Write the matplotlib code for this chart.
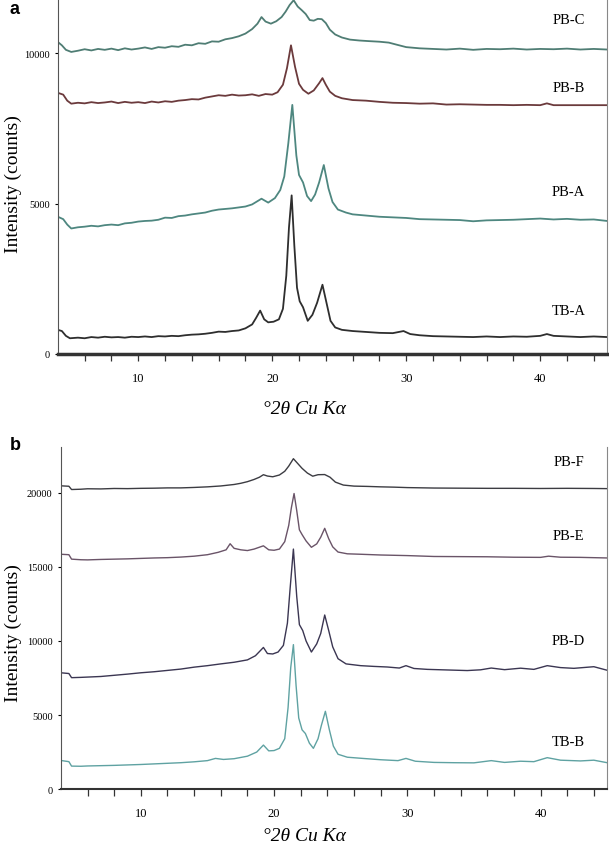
import numpy as np
import matplotlib
matplotlib.use('Agg')
import matplotlib.pyplot as plt

plt.rcParams['font.family'] = ['Liberation Serif', 'DejaVu Serif']

# 图a数据 (2theta, counts)
pb_c = [(4.0, 10370), (4.3, 10260), (4.6, 10110), (5.0, 10040), (5.5, 10080), (6.0, 10130), (6.5, 10090),
        (7.0, 10140), (7.5, 10110), (8.0, 10150), (8.5, 10100), (9.0, 10160), (9.5, 10120), (10.0, 10150),
        (10.5, 10190), (11.0, 10140), (11.5, 10200), (12.0, 10180), (12.5, 10230), (13.0, 10210), (13.5, 10280),
        (14.0, 10260), (14.5, 10330), (15.0, 10310), (15.5, 10390), (16.0, 10380), (16.5, 10460), (17.0, 10500),
        (17.5, 10560), (18.0, 10650), (18.5, 10800), (18.9, 10980), (19.2, 11200), (19.5, 11050), (19.9, 10980),
        (20.3, 11060), (20.7, 11200), (21.0, 11380), (21.3, 11600), (21.6, 11760), (21.9, 11550), (22.2, 11430),
        (22.5, 11300), (22.8, 11100), (23.1, 11080), (23.4, 11140), (23.7, 11130), (24.0, 11000), (24.3, 10780),
        (24.7, 10620), (25.2, 10520), (25.8, 10450), (26.5, 10420), (27.2, 10400), (28.0, 10380), (28.7, 10350),
        (29.3, 10280), (30.0, 10200), (31, 10160), (32, 10140), (33, 10120), (34, 10150), (35, 10110), (36, 10140),
        (37, 10130), (38, 10150), (39, 10120), (40, 10140), (41, 10130), (42, 10150), (43, 10120), (44, 10140),
        (45, 10120)]
pb_b = [(4.0, 8680), (4.4, 8620), (4.7, 8420), (5.0, 8320), (5.5, 8350), (6, 8330), (6.5, 8370), (7, 8340),
        (7.5, 8360), (8, 8390), (8.5, 8340), (9, 8380), (9.5, 8350), (10, 8370), (10.5, 8340), (11, 8390),
        (11.5, 8360), (12, 8400), (12.5, 8380), (13, 8420), (13.5, 8440), (14, 8470), (14.5, 8460), (15, 8520),
        (15.5, 8560), (16, 8600), (16.5, 8580), (17, 8620), (17.5, 8590), (18, 8600), (18.5, 8630), (19, 8580),
        (19.5, 8640), (20, 8620), (20.4, 8700), (20.8, 8950), (21.1, 9500), (21.4, 10260), (21.7, 9550),
        (22.0, 8980), (22.3, 8780), (22.7, 8650), (23.1, 8760), (23.5, 9000), (23.75, 9170), (24.0, 8950),
        (24.3, 8720), (24.7, 8580), (25.2, 8500), (26, 8440), (27, 8420), (28, 8380), (29, 8350), (30, 8340),
        (31, 8320), (32, 8330), (33, 8290), (34, 8300), (35, 8290), (36, 8280), (37, 8280), (38, 8270),
        (39, 8280), (40, 8270), (40.5, 8330), (41, 8270), (42, 8270), (43, 8270), (44, 8270), (45, 8270)]
pb_a = [(4.0, 4560), (4.4, 4480), (4.7, 4300), (5.0, 4170), (5.5, 4210), (6, 4230), (6.5, 4260), (7, 4240),
        (7.5, 4280), (8, 4300), (8.5, 4280), (9, 4340), (9.5, 4360), (10, 4400), (10.5, 4420), (11, 4430),
        (11.5, 4460), (12, 4530), (12.5, 4520), (13, 4580), (13.5, 4600), (14, 4640), (14.5, 4670), (15, 4700),
        (15.5, 4760), (16, 4800), (16.5, 4820), (17, 4840), (17.5, 4870), (18, 4900), (18.5, 4970), (19.2, 5160),
        (19.7, 5030), (20.2, 5180), (20.6, 5450), (20.9, 5900), (21.2, 7000), (21.5, 8280), (21.8, 6600),
        (22.0, 5950), (22.3, 5700), (22.6, 5250), (22.9, 5080), (23.2, 5300), (23.5, 5700), (23.85, 6280),
        (24.2, 5500), (24.5, 5050), (24.9, 4800), (25.5, 4700), (26, 4640), (27, 4600), (28, 4560), (29, 4540),
        (30, 4520), (31, 4480), (32, 4470), (33, 4460), (34, 4450), (35, 4410), (36, 4440), (37, 4450),
        (38, 4460), (39, 4480), (40, 4500), (41, 4470), (42, 4490), (43, 4460), (44, 4470), (45, 4420)]
tb_a = [(4.0, 800), (4.3, 760), (4.6, 600), (4.9, 520), (5.5, 540), (6, 520), (6.5, 560), (7, 540), (7.5, 570),
        (8, 550), (8.5, 560), (9, 540), (9.5, 570), (10, 560), (10.5, 580), (11, 560), (11.5, 590), (12, 580),
        (12.5, 600), (13, 590), (13.5, 620), (14, 640), (14.5, 650), (15, 670), (15.5, 700), (16, 740),
        (16.5, 730), (17, 760), (17.5, 780), (18, 850), (18.5, 980), (18.8, 1200), (19.1, 1440), (19.4, 1150),
        (19.7, 1050), (20.1, 1070), (20.5, 1150), (20.8, 1500), (21.05, 2600), (21.25, 4200), (21.45, 5270),
        (21.65, 3600), (21.85, 2200), (22.05, 1750), (22.3, 1550), (22.65, 1100), (23.0, 1300), (23.35, 1700),
        (23.75, 2300), (24.05, 1700), (24.35, 1100), (24.7, 880), (25.2, 800), (26, 760), (27, 730), (28, 700),
        (29, 690), (29.8, 760), (30.3, 660), (31, 620), (32, 590), (33, 580), (34, 570), (35, 560), (36, 580),
        (37, 560), (38, 580), (39, 570), (40, 600), (40.5, 660), (41, 600), (42, 580), (43, 560), (44, 580),
        (45, 560)]

# 图b数据
pb_f = [(4.0, 20470), (4.6, 20440), (4.8, 20220), (5.5, 20240), (6, 20270), (7, 20260), (8, 20290), (9, 20280),
        (10, 20300), (11, 20310), (12, 20330), (13, 20330), (14, 20360), (15, 20400), (16, 20460), (17, 20560),
        (17.5, 20640), (18, 20750), (18.5, 20900), (18.9, 21050), (19.2, 21220), (19.5, 21130), (19.9, 21080),
        (20.4, 21200), (20.8, 21450), (21.1, 21800), (21.45, 22300), (21.8, 21950), (22.1, 21650), (22.5, 21330),
        (22.9, 21120), (23.3, 21220), (23.8, 21230), (24.2, 21050), (24.6, 20720), (25.2, 20520), (26, 20450),
        (27, 20430), (28, 20400), (29, 20380), (30, 20350), (32, 20320), (34, 20310), (36, 20300), (38, 20300),
        (40, 20290), (42, 20300), (44, 20290), (45, 20280)]
pb_e = [(4.0, 15850), (4.6, 15820), (4.8, 15520), (5.5, 15480), (6, 15470), (7, 15500), (8, 15520), (9, 15540),
        (10, 15570), (11, 15600), (12, 15620), (13, 15660), (14, 15720), (15, 15820), (15.8, 15980), (16.4, 16150),
        (16.7, 16560), (17.0, 16250), (17.5, 16150), (18, 16100), (18.5, 16200), (19.2, 16420), (19.6, 16150),
        (20.0, 16120), (20.4, 16200), (20.8, 16700), (21.1, 17800), (21.3, 19000), (21.5, 19950), (21.7, 18800),
        (21.9, 17500), (22.1, 17180), (22.4, 16750), (22.8, 16320), (23.2, 16550), (23.5, 17000), (23.8, 17600),
        (24.1, 16900), (24.4, 16350), (24.8, 16000), (25.5, 15880), (26.5, 15850), (28, 15800), (30, 15760),
        (32, 15700), (34, 15690), (36, 15680), (38, 15650), (40, 15640), (40.6, 15720), (41.5, 15650),
        (43, 15640), (45, 15600)]
pb_d = [(4.0, 7850), (4.6, 7800), (4.8, 7520), (5.5, 7540), (6, 7560), (7, 7600), (8, 7680), (9, 7760),
        (10, 7850), (11, 7920), (12, 8010), (13, 8100), (14, 8230), (15, 8330), (16, 8450), (17, 8560),
        (18, 8720), (18.6, 9000), (19.2, 9560), (19.5, 9150), (19.9, 9120), (20.3, 9250), (20.7, 9700),
        (21.0, 11200), (21.2, 13500), (21.45, 16200), (21.7, 13000), (21.9, 11100), (22.15, 10700),
        (22.4, 10000), (22.8, 9250), (23.2, 9800), (23.5, 10500), (23.8, 11750), (24.1, 10700), (24.4, 9600),
        (24.8, 8800), (25.4, 8450), (26.5, 8330), (27.5, 8280), (28.5, 8240), (29.4, 8170), (29.9, 8330),
        (30.5, 8140), (31.5, 8080), (33, 8040), (34.5, 8000), (35.5, 8050), (36.3, 8170), (37.3, 8060),
        (38.5, 8160), (39.5, 8080), (40.5, 8330), (41.5, 8200), (42.5, 8150), (44, 8260), (45, 8020)]
tb_b = [(4.0, 1930), (4.6, 1850), (4.8, 1550), (5.5, 1540), (6, 1560), (7, 1580), (8, 1600), (9, 1630),
        (10, 1660), (11, 1700), (12, 1740), (13, 1780), (14, 1840), (15, 1920), (15.6, 2070), (16.2, 2000),
        (17, 2050), (18, 2220), (18.7, 2500), (19.2, 2970), (19.6, 2580), (20.0, 2600), (20.4, 2750),
        (20.8, 3400), (21.05, 5500), (21.25, 8200), (21.45, 9750), (21.65, 7000), (21.85, 4800), (22.1, 4000),
        (22.35, 3750), (22.65, 3100), (22.95, 2750), (23.3, 3400), (23.55, 4300), (23.85, 5250), (24.15, 4000),
        (24.45, 2900), (24.8, 2350), (25.5, 2150), (26.5, 2080), (28, 1980), (29.3, 1920), (29.9, 2070),
        (30.6, 1880), (32, 1800), (33.5, 1780), (35, 1770), (36.3, 1920), (37.3, 1800), (38.5, 1880),
        (39.5, 1850), (40.5, 2120), (41.5, 1950), (43, 1900), (44, 1950), (45, 1780)]

names_a = ['PB-C', 'PB-B', 'PB-A', 'TB-A']
curves_a = [pb_c, pb_b, pb_a, tb_a]
colors_a = ['#4f7d74', '#6b3a3c', '#4e8780', '#2e2e2e']
label_y_a = [11130, 8860, 5390, 1440]
yticks_a = [0, 5000, 10000]

names_b = ['PB-F', 'PB-E', 'PB-D', 'TB-B']
curves_b = [pb_f, pb_e, pb_d, tb_b]
colors_b = ['#3c3c42', '#6a5468', '#3b3652', '#5fa2a2']
label_y_b = [22090, 17090, 10000, 3240]
yticks_b = [0, 5000, 10000, 15000, 20000]


def draw_panel(ax, curves, colors, names, label_y, yticks, ymax, lw, bottom_lw):
    for c, col, n, ly in zip(curves, colors, names, label_y):
        x = [p[0] for p in c]
        y = [p[1] for p in c]
        ax.plot(x, y, color=col, lw=lw)
        ax.text(42.1, ly, n, ha='center', va='center', fontsize=10.5)
    ax.set_xlim(4, 45)
    ax.set_ylim(0, ymax)
    ax.spines['top'].set_visible(False)
    ax.spines['left'].set_color('#555555')
    ax.spines['left'].set_linewidth(0.8)
    ax.spines['right'].set_color('#888888')
    ax.spines['right'].set_linewidth(0.8)
    ax.spines['bottom'].set_color('#333333')
    ax.spines['bottom'].set_linewidth(bottom_lw)
    ax.set_xticks([10, 20, 30, 40])
    ax.set_xticks(np.arange(6, 45, 2), minor=True)
    ax.tick_params(axis='x', which='both', direction='out', length=5, width=0.9,
                   color='#333333', labelsize=9, pad=8)
    ax.set_yticks(yticks)
    ax.tick_params(axis='y', length=2, width=0.8, labelsize=7.5, pad=4)
    ax.set_ylabel('Intensity (counts)', fontsize=14)


fig = plt.figure(figsize=(6.09, 8.45), dpi=100)
ax_a = fig.add_axes([0.095, 0.580, 0.902, 0.420])
ax_b = fig.add_axes([0.100, 0.065, 0.897, 0.405])

draw_panel(ax_a, curves_a, colors_a, names_a, label_y_a, yticks_a, 11800, 1.3, 2.5)
draw_panel(ax_b, curves_b, colors_b, names_b, label_y_b, yticks_b, 23100, 1.0, 1.5)
ax_a.yaxis.set_label_coords(-0.066, 0.48)
ax_b.yaxis.set_label_coords(-0.071, 0.46)

# 横轴标题与子图编号
fig.text(0.5, 1 - 409 / 845, '°2θ Cu Kα', style='italic', fontsize=14, ha='center', va='center')
fig.text(0.5, 1 - 837 / 845, '°2θ Cu Kα', style='italic', fontsize=14, ha='center', va='center')
fig.text(0.016, 1 - 10 / 845, 'a', family='Liberation Sans', fontweight='bold', fontsize=13, va='center')
fig.text(0.016, 1 - 446 / 845, 'b', family='Liberation Sans', fontweight='bold', fontsize=13, va='center')

fig.savefig('out.png', dpi=100)
